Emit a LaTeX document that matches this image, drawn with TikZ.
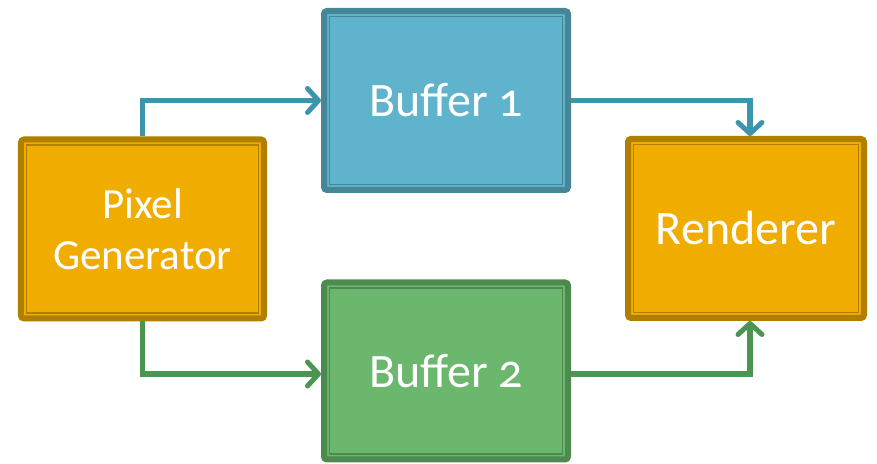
\documentclass[tikz,border=0pt]{standalone}
\usepackage{fontspec}
\setmainfont[Numbers=OldStyle]{Carlito}
\usetikzlibrary{arrows.meta}
\definecolor{orfill}{HTML}{F0AD00}
\definecolor{ordark}{HTML}{B07F00}
\definecolor{blfill}{HTML}{60B3CC}
\definecolor{bldark}{HTML}{468696}
\definecolor{grfill}{HTML}{6BB76D}
\definecolor{grdark}{HTML}{4D8A50}
\definecolor{blline}{HTML}{3C94AD}
\definecolor{grline}{HTML}{4A9650}
\tikzset{
  blk/.style={rectangle, rounded corners=3bp, line width=6bp, inner sep=0pt,
    text=white, align=center},
  inner/.style={line width=1.6bp},
  conn/.style={line width=5.5bp, -{Straight Barb[length=11bp,width=24bp,line width=5bp,round]}},
}
\begin{document}
\begin{tikzpicture}[x=1bp,y=1bp]
\useasboundingbox (0,0) rectangle (877,464);
\node[blk, fill=orfill, draw=ordark, minimum width=243bp, minimum height=179bp,
  font=\fontsize{43bp}{51bp}\selectfont] (pg) at (142.5,235) {Pixel\\Generator};
\node[blk, fill=blfill, draw=bldark, minimum width=244bp, minimum height=179bp,
  font=\fontsize{48bp}{56bp}\selectfont] (b1) at (446,363.5) {Buffer 1};
\node[blk, fill=orfill, draw=ordark, minimum width=236bp, minimum height=179bp,
  font=\fontsize{48bp}{56bp}\selectfont] (r) at (746,235.5) {Renderer};
\node[blk, fill=grfill, draw=grdark, minimum width=244bp, minimum height=177bp,
  font=\fontsize{48bp}{56bp}\selectfont] (b2) at (446,93) {Buffer 2};
\foreach \n/\c in {pg/ordark, b1/bldark, r/ordark, b2/grdark}{
  \draw[inner, \c] ([shift={(8.6,8.6)}]\n.south west) rectangle ([shift={(-8.6,-8.6)}]\n.north east);
}
\draw[conn, blline] (pg.north) |- (b1.west);
\draw[conn, blline] (b1.east) -| ([xshift=4bp]r.north);
\draw[conn, grline] (pg.south) |- ([yshift=-3bp]b2.west);
\draw[conn, grline] ([yshift=-3bp]b2.east) -| ([xshift=4bp]r.south);
\end{tikzpicture}
\end{document}
